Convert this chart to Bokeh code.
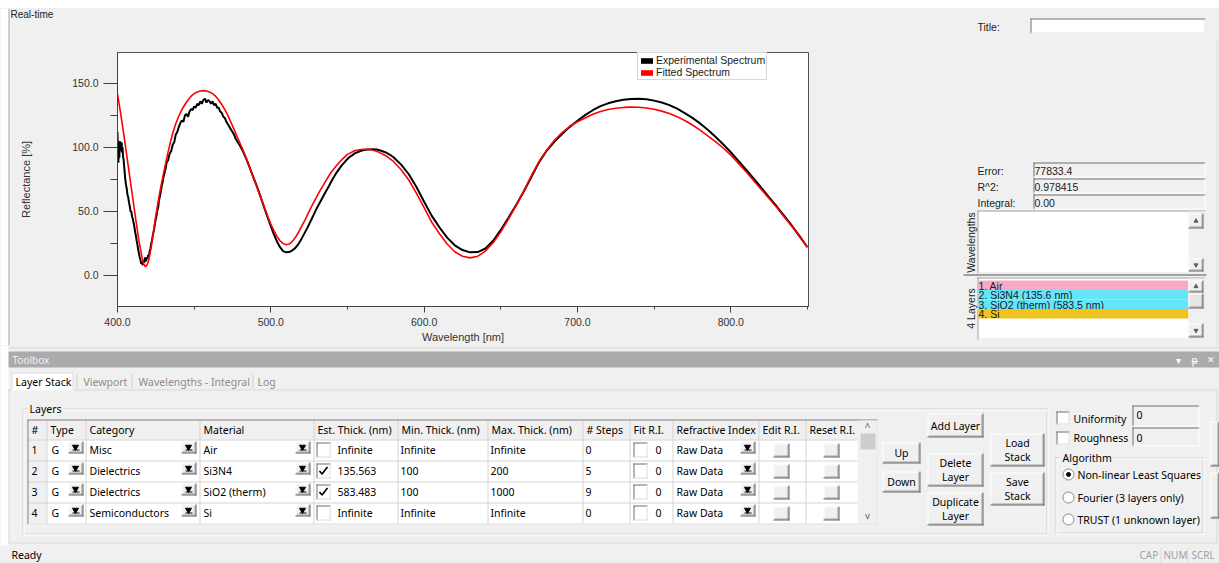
import math
from bokeh.plotting import figure
from bokeh.models import (Range1d, FixedTicker, PrintfTickFormatter, Legend, LegendItem, Spacer)
from bokeh.layouts import column, row
from bokeh.core.properties import value
from bokeh.embed import file_html
from bokeh.resources import INLINE

# ---------------- data ----------------
fit_wavelength = [400, 402, 404, 406, 408, 410, 412, 414, 416, 417, 418, 419, 420, 421, 422, 423,
                  424, 425, 426, 427, 428, 429, 430, 432, 434, 436, 438, 440, 442, 444, 446, 448,
                  450, 452, 454, 456, 458, 460, 462, 464, 466, 468, 470, 472, 474, 476, 478, 480,
                  482, 484, 486, 488, 490, 492, 494, 496, 498, 500, 502, 504, 506, 508, 510, 512,
                  514, 516, 518, 520, 522, 524, 526, 528, 530, 532, 535, 538, 540, 543, 546, 550,
                  555, 560, 565, 570, 575, 580, 585, 590, 595, 600, 605, 610, 615, 620, 625, 630,
                  635, 640, 645, 650, 655, 660, 665, 670, 675, 680, 685, 690, 695, 700, 705, 710,
                  715, 720, 725, 730, 735, 740, 745, 750, 755, 760, 765, 770, 775, 780, 785, 790,
                  795, 800, 805, 810, 815, 820, 825, 830, 835, 840, 845, 850]
fit_reflectance = [141.8, 127, 111, 94, 77, 60, 43, 27, 14, 9.5, 7, 7.5, 10.5, 15.5, 22.5, 30,
                   38.5, 46.5, 54, 61, 67.5, 73.5, 79.5, 91, 101.5, 111, 118.5, 124.5, 129.5, 133.5, 137, 140,
                   142, 143.3, 144, 144.3, 144.1, 143.3, 142, 140, 137, 133.5, 129.5, 125, 119.5, 114, 108.5, 103,
                   97.5, 91.5, 85, 78.5, 72, 65.5, 59, 52.5, 46, 40, 35, 30.5, 27, 25, 24, 24.5,
                   26.5, 29.5, 33.5, 38, 42.5, 47.5, 52.5, 57, 61.5, 66, 72, 78, 81.5, 86, 90, 94.5,
                   97.5, 98.5, 98.3, 96.5, 93.5, 89, 82.5, 74.5, 64, 53, 41.5, 32.5, 24.5, 18.5, 15, 13.7,
                   15, 19, 25.5, 34, 44, 54.5, 66, 78, 89, 98, 105.5, 111.5, 116.5, 120, 123, 125.8,
                   128, 129.6, 130.6, 131.2, 131.4, 131.3, 130.8, 129.8, 128.3, 126.4, 124, 121, 117.5, 113.5, 109, 104.5,
                   99.5, 94, 87.5, 81, 74, 67, 60, 53, 45.5, 38, 30, 22]

exp_wavelength = [400.0, 400.3, 400.6, 400.9, 401.2, 401.5, 401.8, 402.1, 402.4, 402.7, 403.0, 403.3,
                  403.6, 404.0, 404.5, 405.0, 405.5, 406.0, 406.5, 407.0, 407.5, 408.0, 408.5, 409.0,
                  409.5, 410.0, 410.5, 411.0, 411.5, 412.0, 412.5, 413.0, 413.5, 414.0, 414.5, 415.0,
                  415.5, 416.0, 416.5, 417.0, 417.5, 418.0, 418.5, 419.0, 419.5, 420.0, 420.5, 421.0,
                  421.5, 422.0, 422.5, 423.0, 423.5, 424.0, 424.5, 425.0, 425.5, 426.0, 426.5, 427.0,
                  427.5, 428.0, 428.5, 429.0, 429.5, 430.0, 430.5, 431.0, 431.5, 432.0, 433, 434,
                  435, 436, 437, 438, 439, 440, 441, 442, 443, 444, 445, 446,
                  447, 448, 449, 450, 451, 452, 453, 454, 455, 456, 457, 458,
                  459, 460, 461, 462, 463, 464, 465, 466, 467, 468, 469, 470,
                  471, 472, 473, 474, 475, 476, 477, 478, 479, 480, 482, 484,
                  486, 488, 490, 492, 494, 496, 498, 500, 502, 504, 506, 508,
                  510, 512, 514, 516, 518, 520, 522, 524, 526, 528, 530, 532,
                  535, 538, 540, 543, 546, 550, 552, 555, 558, 560, 563, 566,
                  569, 572, 575, 578, 580, 585, 590, 595, 600, 605, 610, 615,
                  620, 625, 630, 635, 640, 645, 650, 655, 660, 665, 670, 675,
                  680, 685, 690, 695, 700, 705, 710, 715, 720, 725, 730, 735,
                  740, 745, 750, 755, 760, 765, 770, 775, 780, 785, 790, 795,
                  800, 805, 810, 815, 820, 825, 830, 835, 840, 845, 850]
exp_reflectance = [112, 96, 88, 101, 92, 105, 97, 103, 99, 104, 96, 100,
                   93, 90, 83, 76, 71, 68, 63, 61, 57, 54, 50, 50,
                   46, 44, 41, 38, 34, 31, 27, 24, 20, 17, 14, 12,
                   9, 10, 8, 12, 10, 14, 11, 14, 13, 16, 15, 19,
                   21, 25, 27, 31, 34, 37, 41, 44, 47, 51, 53, 58,
                   61, 64, 67, 71, 73, 77, 79, 82, 84, 88, 90, 95,
                   97, 102, 104, 110, 112, 116, 119, 121, 120, 125, 126, 124,
                   128, 130, 129, 132, 131, 134, 133, 136, 134, 137, 138, 135,
                   137, 136, 134, 136, 133, 134, 131, 131, 128, 127, 124, 123,
                   120, 118, 116, 114, 112, 110, 107, 105, 103, 101, 96.5, 91,
                   85, 78.5, 72.5, 66, 59, 52, 45, 38.5, 32, 26.5, 22, 19,
                   18, 18.2, 19.5, 21.5, 24.5, 28.5, 33, 37.5, 42.5, 47.5, 52.5, 57,
                   63.5, 70, 74.5, 80.5, 85.5, 91, 93, 95.5, 97, 97.8, 98.4, 98.6,
                   98.3, 97.4, 96, 94, 92.3, 86.5, 79, 69, 57.5, 46.5, 37.5, 29.5,
                   23.5, 19.8, 18, 18.2, 21, 27, 35.5, 45, 55, 65.5, 77, 88.5,
                   97.5, 104.5, 110.5, 116, 120.8, 125.2, 129, 132.2, 134.4, 136, 137.2, 137.8,
                   138, 137.6, 136.5, 135, 133, 130.2, 126.8, 123, 118.7, 113.8, 108.3, 102.4,
                   96.2, 89.5, 82.5, 75.5, 68.3, 61, 53.8, 46.3, 38.6, 30.5, 22]

x_ticks = [400, 500, 600, 700, 800]
x_minor_ticks = [450, 550, 650, 750, 850]
y_ticks = [0, 50, 100, 150]
y_minor_ticks = [25, 75, 125]
series_names = ["Experimental Spectrum", "Fitted Spectrum"]
series_colors = ["#000000", "#ff0000"]

fit_error = "77833.4"
fit_r2 = "0.978415"
fit_integral = "0.00"

layer_index = [1, 2, 3, 4]
layer_type = ["G", "G", "G", "G"]
layer_category = ["Misc", "Dielectrics", "Dielectrics", "Semiconductors"]
layer_material = ["Air", "Si3N4", "SiO2 (therm)", "Si"]
layer_est_thick = ["Infinite", "135.563", "583.483", "Infinite"]
layer_fit_thick = [False, True, True, False]
layer_min_thick = ["Infinite", "100", "100", "Infinite"]
layer_max_thick = ["Infinite", "200", "1000", "Infinite"]
layer_steps = ["0", "5", "9", "0"]
layer_fit_ri = ["0", "0", "0", "0"]
layer_ri = ["Raw Data", "Raw Data", "Raw Data", "Raw Data"]
layer_colors = ["#f9a9c7", "#66e4f8", "#66e4f8", "#f0c31e"]
table_headers = ["#", "Type", "Category", "Material", "Est. Thick. (nm)", "Min. Thick. (nm)",
                 "Max. Thick. (nm)", "# Steps", "Fit R.I.", "Refractive Index", "Edit R.I.", "Reset R.I."]

UI_FONT = "Noto Sans"
WIN_FONT = "Liberation Sans"
BG = "#f0f0f0"
US = 10.5  # ui font size


# ---------------- helpers for the window chrome ----------------
def ui_figure(x0, x1, y0, y1, bg=BG):
    f = figure(width=x1 - x0, height=y1 - y0, x_range=Range1d(x0, x1), y_range=Range1d(y1, y0),
               output_backend="svg", toolbar_location=None, min_border=0,
               x_axis_type=None, y_axis_type=None, frame_align=False)
    f.outline_line_color = None
    f.background_fill_color = bg
    f.border_fill_color = bg
    return f


def fill(f, x0, y0, x1, y1, color):
    f.quad(left=[x0], right=[x1], top=[y0], bottom=[y1], fill_color=color, line_color=None)


def hline(f, x0, x1, y, color, lw=1):
    f.segment(x0=[x0], y0=[y + 0.5], x1=[x1], y1=[y + 0.5], line_color=color, line_width=lw)


def vline(f, x, y0, y1, color, lw=1):
    f.segment(x0=[x + 0.5], y0=[y0], x1=[x + 0.5], y1=[y1], line_color=color, line_width=lw)


def outline(f, x0, y0, x1, y1, color):
    hline(f, x0, x1, y0, color)
    hline(f, x0, x1, y1 - 1, color)
    vline(f, x0, y0, y1, color)
    vline(f, x1 - 1, y0, y1, color)


def txt(f, x, y, s, size=US, color="#000000", align="left", font=UI_FONT, style="normal",
        angle=0.0, baseline="middle"):
    f.text(x=[x], y=[y], text=[s], text_font=value(font), text_font_size=value(f"{size}px"),
           text_color=color, text_align=align, text_baseline=baseline, text_font_style=style,
           angle=angle)


def sunken(f, x0, y0, x1, y1, face="#ffffff", dark="#7a7a7a", light="#e3e3e3"):
    fill(f, x0, y0, x1, y1, face)
    hline(f, x0, x1, y0, dark)
    vline(f, x0, y0, y1, dark)
    hline(f, x0, x1, y1 - 1, light)
    vline(f, x1 - 1, y0, y1, light)


def raised(f, x0, y0, x1, y1, face=BG):
    fill(f, x0, y0, x1, y1, face)
    hline(f, x0, x1, y0, "#ffffff")
    vline(f, x0, y0, y1, "#ffffff")
    hline(f, x0 + 1, x1 - 1, y1 - 2, "#a0a0a0")
    vline(f, x1 - 2, y0 + 1, y1 - 1, "#a0a0a0")
    hline(f, x0, x1, y1 - 1, "#696969")
    vline(f, x1 - 1, y0, y1, "#696969")


def button(f, x0, y0, x1, y1, lines, size=US):
    raised(f, x0, y0, x1, y1)
    cx = (x0 + x1) / 2
    cy = (y0 + y1) / 2
    n = len(lines)
    for i, s in enumerate(lines):
        txt(f, cx, cy + (i - (n - 1) / 2) * 14, s, size=size, align="center")


def dropdown(f, x0, y0):
    raised(f, x0, y0, x0 + 15, y0 + 12)
    f.scatter(x=[x0 + 7], y=[y0 + 5.5], marker="inverted_triangle", size=6,
              fill_color="#000000", line_color="#000000")
    hline(f, x0 + 4, x0 + 11, y0 + 8, "#000000")


def checkbox(f, x0, y0, w, h, checked):
    sunken(f, x0, y0, x0 + w, y0 + h, face="#ffffff", dark="#6d6d6d", light="#dcdcdc")
    if checked:
        f.line(x=[x0 + 3, x0 + 5.5, x0 + 11], y=[y0 + 7.5, y0 + 10.5, y0 + 3.5],
               line_color="#000000", line_width=1.7)


def scroll_arrow(f, x, y, up=True, color="#606060", size=4):
    f.scatter(x=[x], y=[y], marker="triangle" if up else "inverted_triangle", size=size,
              fill_color=color, line_color=color)


# ---------------- top white band ----------------
top_band = Spacer(width=1219, height=8, styles={"background-color": "#ffffff"})

# ---------------- left strip ----------------
left = ui_figure(0, 10, 8, 345)
fill(left, 0, 8, 8, 345, "#ffffff")
vline(left, 8, 8, 345, "#a8a8a8")

# ---------------- "Real-time" strip above chart ----------------
rt = ui_figure(10, 960, 8, 22)
txt(rt, 10, 14, "Real-time", size=10, font=WIN_FONT, color="#222222")

# ---------------- chart ----------------
p = figure(width=950, height=323, x_range=Range1d(400, 850.7), y_range=Range1d(-24.3, 174.1),
           output_backend="svg", toolbar_location=None, frame_align=False,
           min_border_left=107, min_border_right=152, min_border_top=30, min_border_bottom=38)
p.background_fill_color = "#ffffff"
p.border_fill_color = BG
p.outline_line_color = "#505050"
p.xgrid.visible = False
p.ygrid.visible = False

for ax in (p.xaxis[0], p.yaxis[0]):
    ax.formatter = PrintfTickFormatter(format="%.1f")
    ax.axis_line_color = "#404040"
    ax.major_tick_line_color = "#404040"
    ax.minor_tick_line_color = "#404040"
    ax.major_tick_in = 0
    ax.minor_tick_in = 0
    ax.major_label_text_font = WIN_FONT
    ax.major_label_text_font_size = "10.5px"
    ax.major_label_text_color = "#333333"
    ax.axis_label_text_font = WIN_FONT
    ax.axis_label_text_font_size = "11px"
    ax.axis_label_text_font_style = "normal"
    ax.axis_label_text_color = "#333333"

p.xaxis.ticker = FixedTicker(ticks=x_ticks, minor_ticks=x_minor_ticks)
p.yaxis.ticker = FixedTicker(ticks=y_ticks, minor_ticks=y_minor_ticks)
p.xaxis.major_tick_out = 6
p.xaxis.minor_tick_out = 3
p.xaxis.major_label_standoff = 5
p.xaxis.axis_label = "Wavelength [nm]"
p.xaxis.axis_label_standoff = 2
p.yaxis.major_tick_out = 14
p.yaxis.minor_tick_out = 7
p.yaxis.major_label_standoff = 5
p.yaxis.axis_label = "Reflectance [%]"
p.yaxis.axis_label_standoff = 37

exp_line = p.line(exp_wavelength, exp_reflectance, line_color=series_colors[0], line_width=2)
fit_line = p.line(fit_wavelength, fit_reflectance, line_color=series_colors[1], line_width=1.6)
# zero-area swatch glyphs (first data point) so that the legend shows filled blocks
exp_sw = p.quad(left=exp_wavelength[:1], right=exp_wavelength[:1], top=exp_reflectance[:1],
                bottom=exp_reflectance[:1], fill_color=series_colors[0], line_color=None)
fit_sw = p.quad(left=fit_wavelength[:1], right=fit_wavelength[:1], top=fit_reflectance[:1],
                bottom=fit_reflectance[:1], fill_color=series_colors[1], line_color=None)

legend = Legend(items=[LegendItem(label=series_names[0], renderers=[exp_sw]),
                       LegendItem(label=series_names[1], renderers=[fit_sw])],
                location=(520, 226))
legend.label_text_font = WIN_FONT
legend.label_text_font_size = "10.5px"
legend.label_text_color = "#222222"
legend.label_text_line_height = 0.9
legend.label_height = 9
legend.glyph_height = 7
legend.glyph_width = 15
legend.label_standoff = 2
legend.spacing = -4
legend.padding = 1
legend.margin = 0
legend.border_line_color = "#b0b0b0"
legend.background_fill_color = "#ffffff"
legend.background_fill_alpha = 1.0
p.add_layout(legend)

# ---------------- right side panel ----------------
s = ui_figure(960, 1219, 8, 345)
txt(s, 977, 26, "Title:", size=10.5, font=WIN_FONT, color="#222222")
sunken(s, 1030, 18, 1205, 33, face="#ffffff", dark="#6e6e6e")
stats = [("Error:", fit_error, 162), ("R^2:", fit_r2, 178), ("Integral:", fit_integral, 194)]
for lab, val, y0 in stats:
    txt(s, 977, y0 + 8, lab, size=10.5, font=WIN_FONT, color="#222222")
    sunken(s, 1033, y0, 1205, y0 + 15, face=BG, dark="#6e6e6e", light="#ffffff")
    txt(s, 1034, y0 + 8, val, size=10.5, font=WIN_FONT, color="#222222")

# wavelengths list box
sunken(s, 977, 210, 1205, 273, face="#ffffff", dark="#9a9a9a", light="#e3e3e3")
fill(s, 1188, 211, 1204, 272, "#f0f0f0")
raised(s, 1188, 213, 1203, 228)
scroll_arrow(s, 1195.5, 220.5, up=True)
raised(s, 1188, 258, 1203, 271)
scroll_arrow(s, 1195.5, 264.5, up=False)
txt(s, 970, 242, "Wavelengths", size=10.5, font=WIN_FONT, color="#222222", align="center",
    angle=math.pi / 2)
hline(s, 963, 1206, 274, "#a0a0a0", lw=2)

# layers list box
sunken(s, 977, 277, 1205, 339, face="#ffffff", dark="#9a9a9a", light="#e3e3e3")
for i in range(len(layer_material)):
    y0 = 280 + i * 9.5
    fill(s, 978, y0, 1188, y0 + 9.5, layer_colors[i])
    if layer_est_thick[i] == "Infinite":
        lab = f"{layer_index[i]}. {layer_material[i]}"
    else:
        lab = f"{layer_index[i]}. {layer_material[i]} ({float(layer_est_thick[i]):.1f} nm)"
    txt(s, 978, y0 + 5, lab, size=10.5, font=WIN_FONT, color="#1a1a1a")
fill(s, 1188, 278, 1204, 338, "#f0f0f0")
raised(s, 1188, 280, 1203, 292)
scroll_arrow(s, 1195.5, 286, up=True)
raised(s, 1188, 293, 1203, 308, face="#e6e6e6")
raised(s, 1188, 323, 1203, 337)
scroll_arrow(s, 1195.5, 330, up=False)
txt(s, 970, 308, f"{len(layer_material)} Layers", size=10.5, font=WIN_FONT, color="#222222",
    align="center", angle=math.pi / 2)
vline(s, 1216, 40, 345, "#dcdcdc")

# ---------------- bottom toolbox ----------------
b = ui_figure(0, 1219, 345, 563)
fill(b, 0, 345, 8, 545, "#ffffff")
hline(b, 8, 1219, 347, "#d6d6d6")
fill(b, 8, 351, 1219, 367, "#ababab")
txt(b, 12, 359, "Toolbox", size=10, color="#efefef")
txt(b, 1178, 359, "▾", size=10, color="#ffffff", align="center")
txt(b, 1194, 359, "ᵽ", size=10, color="#ffffff", align="center")
txt(b, 1210, 359, "✕", size=9, color="#ffffff", align="center")

# tabs
fill(b, 11, 372, 73, 390, "#ffffff")
vline(b, 11, 372, 389, "#d9d9d9")
hline(b, 11, 73, 372, "#d9d9d9")
vline(b, 72, 372, 389, "#d9d9d9")
txt(b, 15, 381, "Layer Stack", color="#000000")
tab_items = [("Viewport", 83), ("Wavelengths - Integral", 138), ("Log", 257)]
for name, x in tab_items:
    txt(b, x, 381, name, color="#8c8c8c")
for x in (76, 131, 252):
    vline(b, x, 374, 388, "#cfcfcf")
hline(b, 8, 11, 389, "#d9d9d9")
hline(b, 73, 1217, 389, "#d9d9d9")
vline(b, 8, 389, 543, "#d9d9d9")
vline(b, 1216, 389, 543, "#d9d9d9")
hline(b, 8, 1217, 542, "#d9d9d9")

# Layers group box
outline(b, 22, 408, 1047, 534, "#d0d0d0")
outline(b, 23, 409, 1048, 535, "#ffffff")
fill(b, 27, 401, 63, 415, BG)
txt(b, 29, 408, "Layers")

# table
cols = [27, 46, 85, 199, 313, 397, 487, 582, 629, 672, 758, 805, 857]
hdr_top, hdr_bot = 419, 439
row_h = 21
tab_bot = hdr_bot + row_h * len(layer_index)
fill(b, 27, hdr_bot, 857, tab_bot, "#ffffff")
fill(b, 27, hdr_top, 857, hdr_bot, BG)
fill(b, 27, hdr_bot, 46, tab_bot, BG)
for c in cols[1:-1]:
    vline(b, c, hdr_top, tab_bot, "#d4d4d4")
for i in range(len(layer_index)):
    hline(b, 27, 857, hdr_bot + row_h * i, "#d4d4d4")
vline(b, 27, hdr_top, tab_bot + 1, "#828282")
hline(b, 27, 877, hdr_top, "#828282")
hline(b, 27, 877, tab_bot, "#e3e3e3")
vline(b, 876, hdr_top, tab_bot + 1, "#e3e3e3")
for j, h in enumerate(table_headers):
    txt(b, cols[j] + 4, 429.5, h)

for i in range(len(layer_index)):
    top = hdr_bot + row_h * i
    cy = top + 10.5
    txt(b, 31, cy, str(layer_index[i]))
    txt(b, 51, cy, layer_type[i])
    dropdown(b, 68, top + 2)
    txt(b, 89, cy, layer_category[i])
    dropdown(b, 181, top + 2)
    txt(b, 203, cy, layer_material[i])
    dropdown(b, 295, top + 2)
    checkbox(b, 316, top + 3, 14, 15, layer_fit_thick[i])
    txt(b, 337, cy, layer_est_thick[i])
    txt(b, 400, cy, layer_min_thick[i])
    txt(b, 490, cy, layer_max_thick[i])
    txt(b, 585, cy, layer_steps[i])
    checkbox(b, 633, top + 3, 14, 15, False)
    txt(b, 655, cy, layer_fit_ri[i])
    txt(b, 676, cy, layer_ri[i])
    dropdown(b, 740, top + 2)
    raised(b, 773, top + 4, 789, top + 18)
    raised(b, 823, top + 4, 839, top + 18)

# table scrollbar
fill(b, 858, hdr_top + 1, 876, tab_bot, BG)
txt(b, 867, 426, "^", size=10, color="#555555", align="center")
fill(b, 860, 433, 875, 449, "#cdcdcd")
txt(b, 867, 515, "v", size=9, color="#555555", align="center")

# buttons
button(b, 882, 442, 920, 463, ["Up"])
button(b, 882, 471, 920, 492, ["Down"])
button(b, 927, 413, 983, 437, ["Add Layer"])
button(b, 927, 453, 983, 486, ["Delete", "Layer"])
button(b, 927, 492, 983, 525, ["Duplicate", "Layer"])
button(b, 990, 433, 1044, 466, ["Load", "Stack"])
button(b, 990, 472, 1044, 505, ["Save", "Stack"])

# uniformity / roughness
checkbox(b, 1056, 411, 13, 13, False)
txt(b, 1073, 418, "Uniformity")
sunken(b, 1132, 405, 1199, 426, face=BG, dark="#6e6e6e", light="#ffffff")
txt(b, 1136, 414, "0")
checkbox(b, 1056, 431, 13, 13, False)
txt(b, 1073, 437, "Roughness")
sunken(b, 1132, 427, 1199, 446, face=BG, dark="#6e6e6e", light="#ffffff")
txt(b, 1136, 437, "0")

# algorithm group
outline(b, 1055, 457, 1203, 533, "#d0d0d0")
outline(b, 1056, 458, 1204, 534, "#ffffff")
fill(b, 1060, 450, 1112, 464, BG)
txt(b, 1062, 457, "Algorithm")
algos = ["Non-linear Least Squares", "Fourier (3 layers only)", "TRUST (1 unknown layer)"]
for k, (name, y) in enumerate(zip(algos, [474, 497, 519])):
    b.scatter(x=[1068], y=[y], marker="circle", size=11, fill_color="#ffffff",
              line_color="#8a8a8a")
    if k == 0:
        b.scatter(x=[1068], y=[y], marker="circle", size=4, fill_color="#000000",
                  line_color="#000000")
    txt(b, 1077, y, name)

# partial controls at right edge
raised(b, 1210, 421, 1219, 466)
raised(b, 1210, 472, 1219, 518)

# status bar
txt(b, 11, 554, "Ready")
for name, x in [("CAP", 1139), ("NUM", 1163), ("SCRL", 1191)]:
    txt(b, x, 554, name, size=10, color="#a0a0a0")
for x in (1160, 1187):
    vline(b, x, 547, 562, "#dcdcdc")

bgstyle = {"background-color": BG}
layout = column(top_band,
                row(left, column(rt, p, spacing=0, styles=bgstyle), s, spacing=0, styles=bgstyle),
                b, spacing=0, styles=bgstyle)
open("out.html", "w").write(file_html(layout, INLINE))
